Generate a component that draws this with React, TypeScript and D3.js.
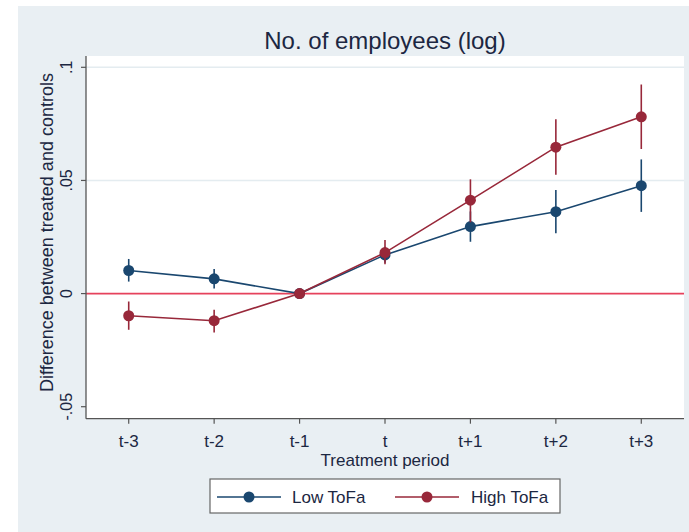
import React from "react";
import * as d3 from "d3";

const periods = ["t-3", "t-2", "t-1", "t", "t+1", "t+2", "t+3"];
const periodIndex = [-3, -2, -1, 0, 1, 2, 3];
const lowValues = [0.0102, 0.0065, 0, 0.0171, 0.0296, 0.0362, 0.0477];
const lowUpper = [0.0153, 0.0109, 0, 0.0207, 0.0363, 0.0458, 0.0593];
const lowLower = [0.0053, 0.0022, 0, 0.0136, 0.0229, 0.0267, 0.0361];
const highValues = [-0.0098, -0.012, 0, 0.0181, 0.0413, 0.0647, 0.0781];
const highUpper = [-0.0035, -0.0072, 0, 0.0237, 0.0505, 0.0771, 0.0924];
const highLower = [-0.016, -0.0172, 0, 0.013, 0.0315, 0.0525, 0.0639];
const yTicks = [-0.05, 0, 0.05, 0.1];
const yTickLabels = ["-.05", "0", ".05", ".1"];
const gridValues = [0.05, 0.1];
const seriesNames = ["Low ToFa", "High ToFa"];

const W = 689;
const H = 532;
const plot = { left: 86, right: 684, top: 56, bottom: 418.7 };
const FONT = "'Liberation Sans', Arial, sans-serif";
const TEXT = "#1c2742";
const BLUE = "#1a476f";
const RED = "#98283a";

export default function App() {
  const x = d3.scaleLinear().domain([-3.5, 3.5]).range([plot.left, plot.right]);
  const y = d3.scaleLinear().domain([-0.0553, 0.105]).range([plot.bottom, plot.top]);
  const line = d3
    .line<number>()
    .x((_, i) => x(periodIndex[i]))
    .y((d) => y(d));

  const series = [
    { name: seriesNames[0], values: lowValues, up: lowUpper, lo: lowLower, color: BLUE },
    { name: seriesNames[1], values: highValues, up: highUpper, lo: highLower, color: RED },
  ];

  return (
    <svg
      width={W}
      height={H}
      style={{ position: "absolute", left: 0, top: 0, display: "block" }}
      fontFamily={FONT}
    >
      <rect x={0} y={0} width={W} height={H} fill="#ffffff" />
      <rect x={18} y={6} width={W - 18} height={H - 6} fill="#e9eff3" />
      <rect
        x={plot.left}
        y={plot.top}
        width={plot.right - plot.left}
        height={plot.bottom - plot.top}
        fill="#ffffff"
      />
      {gridValues.map((g) => (
        <line
          key={g}
          x1={plot.left}
          x2={plot.right}
          y1={y(g)}
          y2={y(g)}
          stroke="#e4ecf0"
          strokeWidth={1.5}
        />
      ))}
      <line
        x1={plot.left}
        x2={plot.right}
        y1={y(0)}
        y2={y(0)}
        stroke="#e6425c"
        strokeWidth={1.8}
      />
      {/* axes */}
      <line x1={plot.left} x2={plot.left} y1={plot.top} y2={plot.bottom} stroke="#555" strokeWidth={1.3} />
      <line x1={plot.left} x2={plot.right} y1={plot.bottom} y2={plot.bottom} stroke="#555" strokeWidth={1.3} />
      {yTicks.map((t, i) => (
        <g key={t}>
          <line x1={plot.left - 5} x2={plot.left} y1={y(t)} y2={y(t)} stroke="#555" strokeWidth={1.2} />
          <text
            transform={`translate(${72},${y(t)}) rotate(-90)`}
            textAnchor="middle"
            fontSize={16}
            fill={TEXT}
          >
            {yTickLabels[i]}
          </text>
        </g>
      ))}
      {periods.map((p, i) => (
        <g key={p}>
          <line
            x1={x(periodIndex[i])}
            x2={x(periodIndex[i])}
            y1={plot.bottom}
            y2={plot.bottom + 5}
            stroke="#555"
            strokeWidth={1.2}
          />
          <text x={x(periodIndex[i])} y={447} textAnchor="middle" fontSize={17} fill={TEXT}>
            {p}
          </text>
        </g>
      ))}
      <text x={385} y={466} textAnchor="middle" fontSize={17} fill={TEXT}>
        Treatment period
      </text>
      <text
        transform={`translate(${53},${232.5}) rotate(-90)`}
        textAnchor="middle"
        fontSize={18}
        fill={TEXT}
      >
        Difference between treated and controls
      </text>
      <text x={385} y={49} textAnchor="middle" fontSize={24} fill={TEXT}>
        No. of employees (log)
      </text>
      {/* series */}
      {series.map((s) => (
        <g key={s.name}>
          <path d={line(s.values) || ""} fill="none" stroke={s.color} strokeWidth={1.6} />
          {s.values.map((v, i) =>
            s.up[i] !== s.lo[i] ? (
              <line
                key={"e" + i}
                x1={x(periodIndex[i])}
                x2={x(periodIndex[i])}
                y1={y(s.up[i])}
                y2={y(s.lo[i])}
                stroke={s.color}
                strokeWidth={1.6}
              />
            ) : null
          )}
          {s.values.map((v, i) => (
            <circle key={"c" + i} cx={x(periodIndex[i])} cy={y(v)} r={5.5} fill={s.color} />
          ))}
        </g>
      ))}
      {/* legend */}
      <rect x={210} y={479} width={350} height={34} fill="#ffffff" stroke="#666" strokeWidth={1.2} />
      <line x1={217} x2={281} y1={497} y2={497} stroke={BLUE} strokeWidth={1.6} />
      <circle cx={249} cy={497} r={5.5} fill={BLUE} />
      <text x={292} y={503} fontSize={17} fill={TEXT}>
        {seriesNames[0]}
      </text>
      <line x1={395} x2={459} y1={497} y2={497} stroke={RED} strokeWidth={1.6} />
      <circle cx={427} cy={497} r={5.5} fill={RED} />
      <text x={471} y={503} fontSize={17} fill={TEXT}>
        {seriesNames[1]}
      </text>
    </svg>
  );
}
